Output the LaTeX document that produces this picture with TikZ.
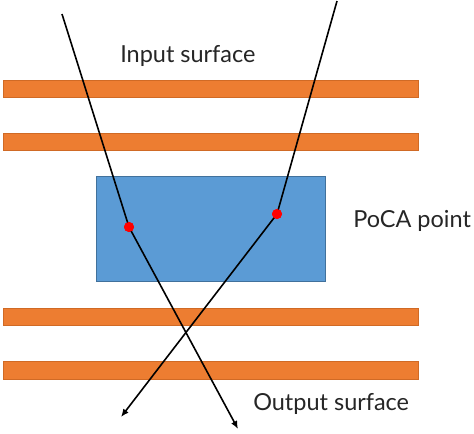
\documentclass[tikz,border=0pt]{standalone}
\usepackage{fontspec}
\setmainfont{Lato}
\usetikzlibrary{arrows.meta}
\definecolor{barorange}{HTML}{ED7D31}
\definecolor{barline}{HTML}{D06A25}
\definecolor{boxblue}{HTML}{5B9BD5}
\definecolor{boxline}{HTML}{41719C}
\definecolor{dotred}{HTML}{FF0000}
\begin{document}
\begin{tikzpicture}[x=0.75pt,y=-0.75pt,
  bar/.style={fill=barorange,draw=barline,line width=0.5pt},
  detector/.style={fill=boxblue,draw=boxline,line width=0.5pt},
  track/.style={line width=1.2pt,black},
  trackend/.style={track,-{Latex[length=6pt,width=5pt]}},
  poca/.style={circle,fill=dotred,inner sep=0pt,minimum size=7.5pt},
  lbl/.style={font=\fontsize{17.6}{21}\selectfont,text=black!85,inner sep=0pt,anchor=base west}]
\useasboundingbox (0,0) rectangle (474,433);
\fill[white] (0,0) rectangle (474,433);
% surfaces
\draw[bar] (3,80) rectangle (418,97);
\draw[bar] (3,133) rectangle (418,150);
\draw[bar] (3,308) rectangle (418,325);
\draw[bar] (3,361) rectangle (418,379);
% volume
\draw[detector] (96,176) rectangle (325,281);
% labels
\node[lbl] (inlbl) at (120,62) {Input surface};
\node[lbl] (pocalbl) at (353,227) {PoCA point};
\node[lbl] (outlbl) at (253,410) {Output surface};
% tracks
\coordinate (sL) at (62,14);
\coordinate (eL) at (238,429);
\coordinate (sR) at (337,1);
\coordinate (eR) at (121,417);
\node[poca] (dL) at (129,227) {};
\node[poca] (dR) at (277,214) {};
\draw[track] (sL) -- (dL.center);
\draw[trackend] (dL.center) -- (eL);
\draw[track] (sR) -- (dR.center);
\draw[trackend] (dR.center) -- (eR);
\node[poca] at (dL) {};
\node[poca] at (dR) {};
\end{tikzpicture}
\end{document}
